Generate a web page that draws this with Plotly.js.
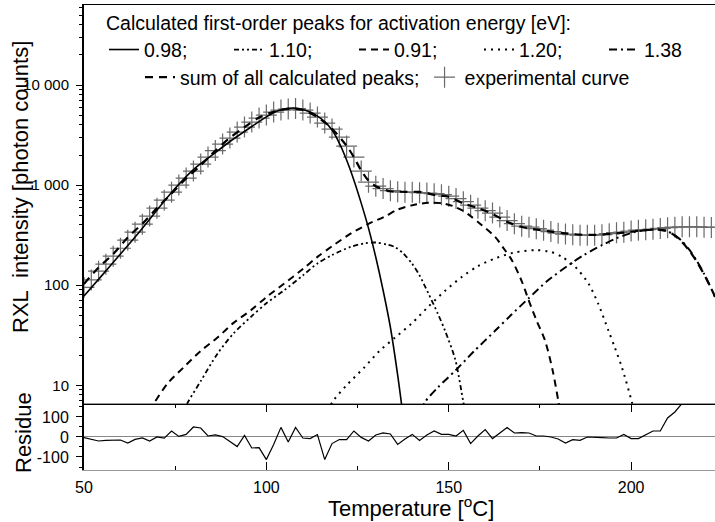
<!DOCTYPE html>
<html>
<head>
<meta charset="utf-8">
<script src="https://cdn.plot.ly/plotly-3.0.1.min.js"></script>
<style>html,body{margin:0;padding:0;background:#fff;}#chart{width:715px;height:522px;}</style>
</head>
<body>
<div id="chart"></div>
<script>
// ---- experimental curve and residue (2 °C steps) ----
const tempExp = [50,52,54,56,58,60,62,64,66,68,70,72,74,76,78,80,82,84,86,88,90,92,94,96,98,100,102,104,106,108,110,112,114,116,118,120,122,124,126,128,130,132,134,136,138,140,142,144,146,148,150,152,154,156,158,160,162,164,166,168,170,172,174,176,178,180,182,184,186,188,190,192,194,196,198,200,202,204,206,208,210,212,214,216,218,220,222];
const expCounts = [95,113,138,162,195,234,282,339,407,490,589,708,851,1000,1175,1380,1622,1905,2213,2570,2950,3390,3800,4265,4680,5010,5370,5620,5750,5820,5620,5250,4790,4170,3630,3020,2455,1905,1380,1070,977,923,881,861,851,851,841,832,822,803,776,733,684,631,589,556,525,479,442,412,389,380,367,355,343,331,324,320,316,316,316,320,327,335,339,347,355,359,363,369,376,380,383,383,383,380,378];
const residue = [-3,-10,-20,-17,-16,-15,-30,-12,-5,-20,0,-6,30,3,13,50,45,5,10,2,-22,-48,8,-55,-53,-113,-37,48,-25,48,-5,-8,12,-113,-33,-13,-13,30,-2,-20,10,20,15,-37,-10,13,-17,10,30,13,13,5,33,-33,5,37,-8,20,47,20,22,20,5,5,0,-10,-30,-13,-17,0,-3,-3,-5,-5,13,-8,-8,13,30,30,95,125,175,215,255,290,320];

// ---- sum of all calculated peaks ----
const tSum = [50,54,58,62,66,70,74,78,82,86,90,94,98,102,106,110,114,118,122,124,126,128,130,134,138,142,146,150,154,158,162,166,170,174,178,182,186,190,194,198,202,206,208,210,212,214,216,218,220,222,223];
const sumCounts = [103,150,205,300,412,589,825,1165,1580,2205,2970,3795,4735,5410,5775,5625,4780,3665,2470,1900,1400,1110,975,868,858,855,800,765,655,590,515,430,382,360,343,330,320,318,325,335,350,358,356,348,312,268,220,172,128,92,77];

// ---- calculated first-order peaks (activation energy in eV) ----
const t098 = [50,55,60,65,70,75,80,85,90,95,100,103,106,108,110,112,114,116,118,120,122,124,126,128,130,132,134,136,138];
const v098 = [78,126,205,335,562,930,1430,1980,2730,3640,4810,5500,5850,5880,5690,5370,4900,4315,3550,2630,1780,1120,661,372,190,89,38,12.6,3.5];
const t110 = [76,78.3,82,86.6,91,95.7,100,104.9,110,114,118,123.2,127,130,133,135.3,137.5,139.9,142,144.4,147,149,151.8,154,155];
const v110 = [4.5,6.6,11,20.7,33,48,66,89,125,165,200,242,262,267,255,240,208,165,125,83,52,35,18,6.8,4.5];
const t091 = [68,69.2,73,77.4,82,86.6,91,95.7,100,104.9,110,114,118,123.2,128,132.3,136,140,144.4,148,151,153.6,156,159,162.7,165,167.3,170,171.9,174,176.4,178.5,180.1,181];
const v091 = [5.5,6.6,10.5,15.2,22,30,42,56,76,104,145,192,245,329,410,482,570,630,665,660,620,562,490,400,304,235,178,110,71,45,28,14,6.8,4.5];
const t120 = [117,118.1,122,126.8,131,135.3,140,144.4,149,153.6,158,162.7,168,173.7,178,181,184.5,188.3,191,193.8,195.5,197.5,200.2,201];
const v120 = [5.5,6.8,10,15,22,30,42,61,88,121,155,185,212,224,215,192,155,104,65,35,24,15,6.8,5];
const t138 = [142.5,143.5,147,151.8,157,162.7,167,171.9,177,182.8,187,192,196,201.1,205,207.5,210,212,214,216,218,220,222,223];
const v138 = [5.5,6.8,9.5,14,22,35,50,74,110,158,200,251,295,341,358,360,345,315,275,225,175,130,92,76];

const peakLabels = ['0.98;','1.10;','0.91;','1.20;','1.38'];
const legendTitle = 'Calculated first-order peaks for activation energy [eV]:';
const yTickVals = [10,100,1000,10000];
const yTickText = ['10','100','1 000','10 000'];
const xTickVals = [50,100,150,200];
const resTickVals = [-100,0,100];
const resTickText = ['-100','0','100'];

const FONT = '"Liberation Sans", Arial, sans-serif';

function peak(x, y, name, dash, w) {
  return {x: x, y: y, name: name, type: 'scatter', mode: 'lines', xaxis: 'x2', yaxis: 'y',
    line: {color: '#000', width: w, dash: dash, shape: 'spline', smoothing: 0.8},
    legend: 'legend'};
}

const traces = [
  {x: tempExp, y: expCounts, name: 'experimental curve', type: 'scatter', mode: 'markers', xaxis: 'x2', yaxis: 'y',
   marker: {symbol: 'cross-thin-open', size: 15, color: '#6a6a6a', line: {color: '#6a6a6a', width: 1.2}},
   legend: 'legend2', legendrank: 2},
  peak(t098, v098, peakLabels[0], 'solid', 1.6),
  peak(t110, v110, peakLabels[1], '5px,3px,2px,3px,2px,3px', 1.8),
  peak(t091, v091, peakLabels[2], '7px,5px', 2),
  peak(t120, v120, peakLabels[3], '2px,5px', 2),
  peak(t138, v138, peakLabels[4], '8px,4px,2px,4px', 2),
  {x: tSum, y: sumCounts, name: 'sum of all calculated peaks;', type: 'scatter', mode: 'lines', xaxis: 'x2', yaxis: 'y',
   line: {color: '#000', width: 2.2, dash: '8px,6px', shape: 'spline', smoothing: 0.8}, legend: 'legend2', legendrank: 1},
  {x: tempExp, y: residue, name: 'residue', type: 'scatter', mode: 'lines', xaxis: 'x', yaxis: 'y2',
   line: {color: '#000', width: 1.2}, showlegend: false}
];

const minorLog = [];
for (let k = 0; k <= 4; k++) for (let m = 2; m <= 9; m++) minorLog.push(m * Math.pow(10, k));

const layout = {
  width: 715, height: 522,
  margin: {l: 84, r: 0, t: 5, b: 52, autoexpand: false},
  paper_bgcolor: '#fff', plot_bgcolor: '#fff',
  font: {family: FONT, size: 15, color: '#000'},
  showlegend: true,
  legend: {orientation: 'h', x: (104 - 84) / 631, xanchor: 'left', y: 1.0, yanchor: 'top', bgcolor: 'rgba(0,0,0,0)',
    font: {family: FONT, size: 19.5}, title: {text: legendTitle, side: 'top', font: {family: FONT, size: 19.5}},
    traceorder: 'normal', itemwidth: 30, tracegroupgap: 0, entrywidth: 80, entrywidthmode: 'pixels'},
  legend2: {orientation: 'h', x: (140 - 84) / 631, xanchor: 'left', y: 0.886, yanchor: 'top', bgcolor: 'rgba(0,0,0,0)',
    font: {family: FONT, size: 19.5}, traceorder: 'normal', itemwidth: 30},
  xaxis: {domain: [0, 1], anchor: 'y2', range: [50, 223], tickvals: xTickVals, ticks: 'inside', ticklen: 8,
    tickcolor: '#000', showline: true, linecolor: '#999', linewidth: 1, mirror: 'ticks', showgrid: false, zeroline: false,
    minor: {tickvals: [75, 125, 175], ticks: 'inside', ticklen: 4, tickcolor: '#000', showgrid: false},
    ticklabelstandoff: 3, tickfont: {family: FONT, size: 16}},
  xaxis2: {domain: [0, 1], anchor: 'y', matches: 'x', range: [50, 223], showticklabels: false, ticks: '',
    showline: true, linecolor: '#000', linewidth: 1.5, mirror: true, showgrid: false, zeroline: false},
  yaxis: {domain: [0.142, 1], anchor: 'x2', type: 'log', range: [0.813, 4.8], tickvals: yTickVals, ticktext: yTickText,
    ticks: 'outside', ticklen: 6, tickcolor: '#000', showline: true, linecolor: '#000', linewidth: 2, showgrid: false,
    minor: {tickvals: minorLog, ticks: 'outside', ticklen: 3, tickcolor: '#000', showgrid: false},
    ticklabelstandoff: 4, tickfont: {family: FONT, size: 15}},
  yaxis2: {domain: [0, 0.142], anchor: 'x', range: [-165, 165], tickvals: resTickVals, ticktext: resTickText,
    ticks: 'outside', ticklen: 6, tickcolor: '#000', showline: true, linecolor: '#000', linewidth: 2, showgrid: false,
    zeroline: true, zerolinecolor: '#888', zerolinewidth: 1,
    minor: {tickvals: [-150, -50, 50, 150], ticks: 'outside', ticklen: 3, tickcolor: '#000', showgrid: false},
    ticklabelstandoff: 4, tickfont: {family: FONT, size: 16}},
  annotations: [
    {text: 'RXL\u00a0\u00a0intensity [photon counts]', xref: 'paper', yref: 'paper', x: (21 - 84) / 631, y: (470 - 187) / 465,
     textangle: -90, showarrow: false, xanchor: 'center', yanchor: 'middle', font: {family: FONT, size: 22}},
    {text: 'Residue', xref: 'paper', yref: 'paper', x: (23 - 84) / 631, y: (470 - 433) / 465,
     textangle: -90, showarrow: false, xanchor: 'center', yanchor: 'middle', font: {family: FONT, size: 22}},
    {text: 'Temperature [<sup>o</sup>C]', xref: 'paper', yref: 'paper', x: (411 - 84) / 631, y: (470 - 507) / 465,
     showarrow: false, xanchor: 'center', yanchor: 'middle', font: {family: FONT, size: 22}}
  ]
};

Plotly.newPlot('chart', traces, layout, {displayModeBar: false, staticPlot: true});
</script>
</body>
</html>
